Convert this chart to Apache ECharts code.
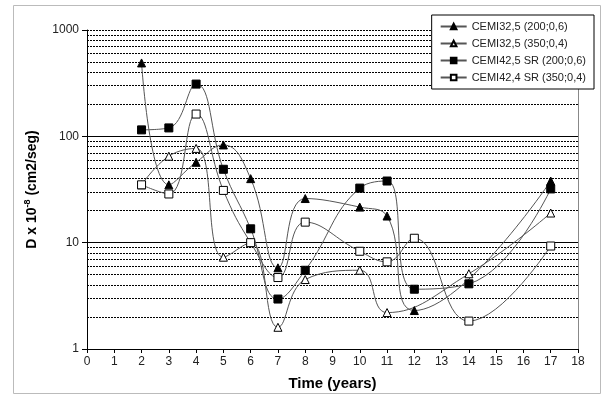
<!DOCTYPE html>
<html>
<head>
<meta charset="utf-8">
<script src="https://cdn.jsdelivr.net/npm/echarts@6/dist/echarts.min.js"></script>
<style>
  html, body { margin: 0; padding: 0; background: #fff; }
  #chart { width: 605px; height: 396px; }
</style>
</head>
<body>
<div id="chart"></div>
<script>
  // datos (tiempo en años, D x 10^-8 cm2/seg)
  var years1 = [2, 3, 4, 5, 6, 7, 8, 10, 11, 12, 17];
  var cemi325_200 = [490, 35, 57, 83, 40, 5.8, 26, 21.6, 17.8, 2.3, 38];

  var years2 = [2, 3, 4, 5, 6, 7, 8, 10, 11, 14, 17];
  var cemi325_350 = [35, 65, 77, 7.3, 10, 1.6, 4.5, 5.5, 2.2, 5.1, 19];

  var years3 = [2, 3, 4, 5, 6, 7, 8, 10, 11, 12, 14, 17];
  var cemi425_200 = [115, 120, 310, 49, 13.5, 2.95, 5.5, 32.6, 38, 3.65, 4.1, 32];

  var years4 = [2, 3, 4, 5, 6, 7, 8, 10, 11, 12, 14, 17];
  var cemi424_350 = [35, 28.7, 162, 31, 10, 4.7, 15.6, 8.3, 6.6, 11, 1.83, 9.3];

  var names = ['CEMI32,5 (200;0,6)', 'CEMI32,5 (350;0,4)', 'CEMI42,5 SR (200;0,6)', 'CEMI42,4 SR (350;0,4)'];

  var majorGrid = [10, 100];
  var minorGrid = [2, 3, 4, 5, 6, 7, 8, 9, 20, 30, 40, 50, 60, 70, 80, 90, 200, 300, 400, 500, 600, 700, 800, 900, 1000];

  function pairs(xs, ys) {
    return xs.map(function (x, i) { return [x, ys[i]]; });
  }

  var filled = { color: '#000', borderColor: '#000', borderWidth: 1 };
  var hollow = { color: '#fff', borderColor: '#000', borderWidth: 1 };

  function mkSeries(name, data, symbol, style, size) {
    return {
      name: name,
      type: 'line',
      data: data,
      smooth: 0.45,
      symbol: symbol,
      symbolSize: size,
      lineStyle: { color: '#555', width: 1 },
      itemStyle: style,
      z: 5
    };
  }

  var series = [
    mkSeries(names[0], pairs(years1, cemi325_200), 'triangle', filled, 8),
    mkSeries(names[1], pairs(years2, cemi325_350), 'triangle', hollow, 8),
    mkSeries(names[2], pairs(years3, cemi425_200), 'rect', filled, 8),
    mkSeries(names[3], pairs(years4, cemi424_350), 'rect', hollow, 8)
  ];

  // lineas de la grilla
  series.push({
    type: 'line',
    data: [],
    silent: true,
    z: 1,
    markLine: {
      silent: true,
      symbol: 'none',
      z: 1,
      label: { show: false },
      data: majorGrid.map(function (v) {
        return { yAxis: v, lineStyle: { color: '#000', width: 1, type: 'solid' } };
      }).concat(minorGrid.map(function (v) {
        return { yAxis: v, lineStyle: { color: '#000', width: 1, type: [2, 1] } };
      }))
    }
  });

  var chart = echarts.init(document.getElementById('chart'));
  chart.setOption({
    animation: false,
    textStyle: { fontFamily: 'Liberation Sans, Arial, sans-serif' },
    graphic: [{
      type: 'rect',
      shape: { x: 13.5, y: 5.5, width: 587, height: 388 },
      style: { fill: 'none', stroke: '#bbb', lineWidth: 1 },
      silent: true
    }],
    legend: {
      orient: 'vertical',
      right: 11,
      top: 15,
      z: 100,
      data: names,
      backgroundColor: '#fff',
      borderColor: '#000',
      borderWidth: 1,
      padding: [6, 8, 6, 8],
      itemGap: 6,
      itemWidth: 26,
      itemHeight: 7,
      textStyle: { fontSize: 11, color: '#222' }
    },
    grid: { left: 87, right: 27, top: 30, bottom: 47 },
    xAxis: {
      type: 'value',
      min: 0,
      max: 18,
      interval: 1,
      name: 'Time (years)',
      nameLocation: 'middle',
      nameGap: 27,
      nameTextStyle: { fontSize: 15, fontWeight: 'bold', color: '#000' },
      axisLine: { lineStyle: { color: '#000', width: 1 } },
      axisTick: { show: true, length: 4, lineStyle: { color: '#000' } },
      axisLabel: { fontSize: 12, color: '#222', margin: 7 },
      splitLine: { show: false }
    },
    yAxis: [{
      type: 'log',
      logBase: 10,
      min: 1,
      max: 1000,
      name: '{a|D x 10}{s|-8}{a| (cm2/seg)}',
      nameLocation: 'middle',
      nameGap: 48,
      nameTextStyle: {
        rich: {
          a: { fontSize: 14, fontWeight: 'bold', color: '#000', lineHeight: 16, verticalAlign: 'bottom' },
          s: { fontSize: 9, fontWeight: 'bold', color: '#000', lineHeight: 16, verticalAlign: 'top' }
        }
      },
      axisLine: { show: true, lineStyle: { color: '#000', width: 1 } },
      axisTick: { show: true, length: 5, inside: false, lineStyle: { color: '#000' } },
      axisLabel: {
        fontSize: 12, color: '#222', margin: 8,
        formatter: function (v) { return String(Math.round(v)); }
      },
      splitLine: { show: false }
    }, {
      type: 'log',
      min: 1,
      max: 1000,
      position: 'right',
      axisLine: { show: true, lineStyle: { color: '#888', width: 1 } },
      axisTick: { show: false },
      axisLabel: { show: false },
      splitLine: { show: false }
    }],
    series: series
  });
</script>
</body>
</html>
